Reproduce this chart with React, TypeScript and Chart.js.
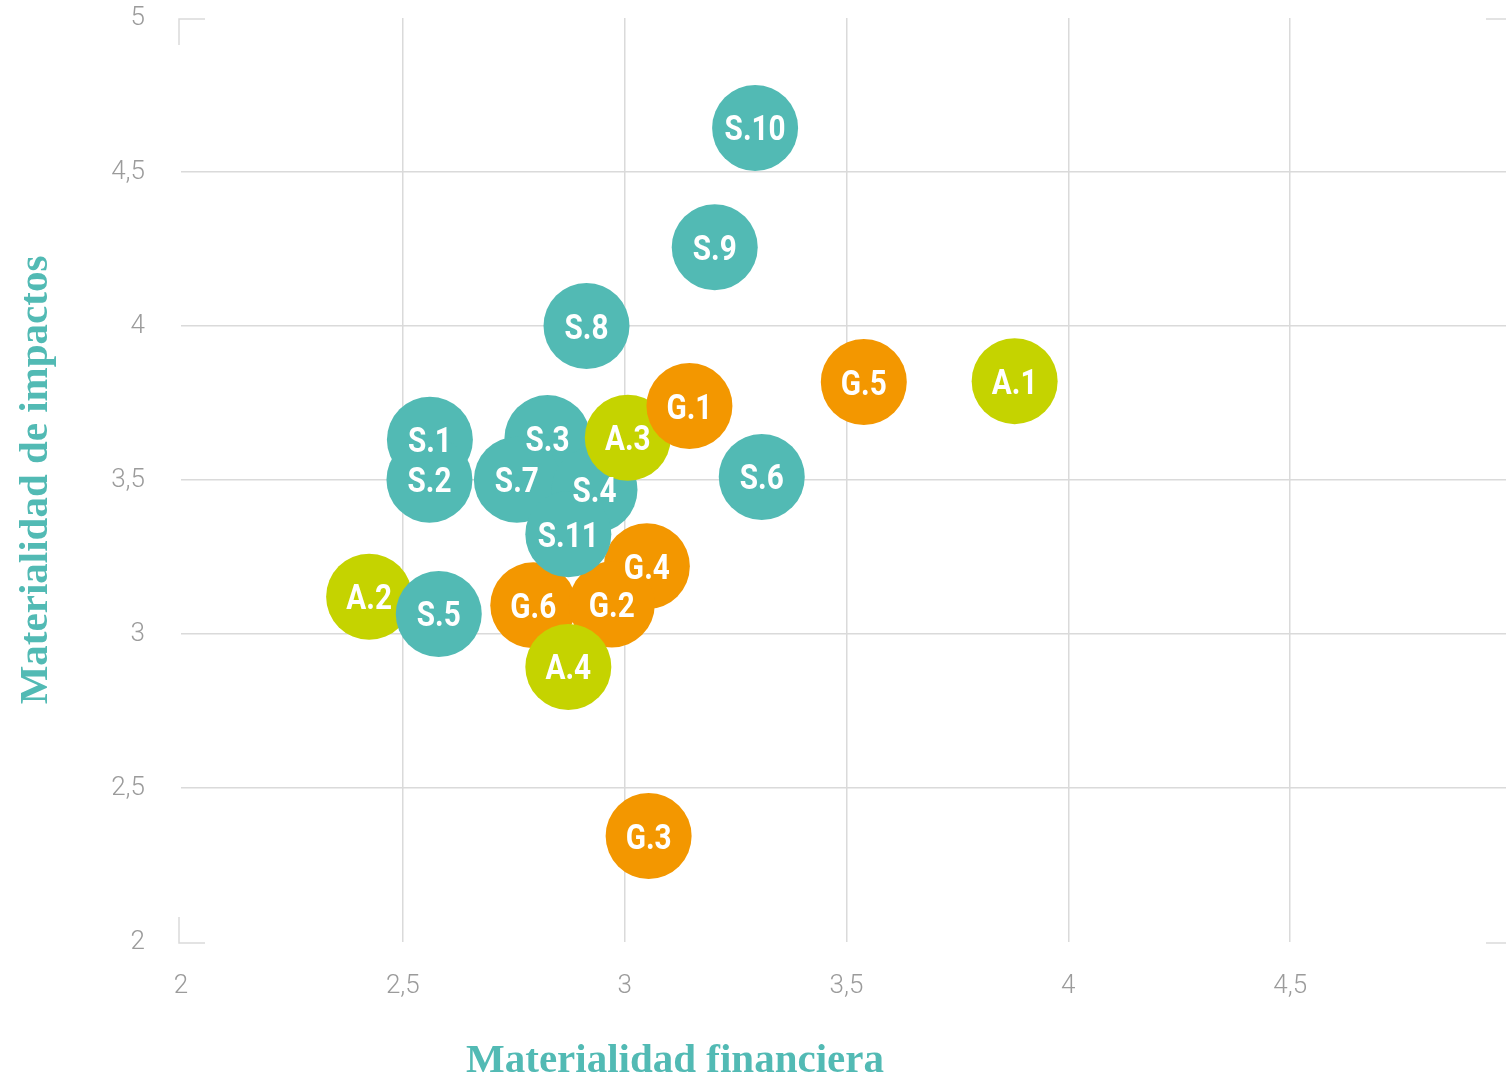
import React, { useEffect, useRef } from "react";
import { Chart, registerables } from "chart.js";

Chart.register(...registerables);

// ---- Data ----
// Draw order: later points are drawn on top of earlier ones.
const pointLabels = ["A.2", "S.5", "S.1", "S.2", "S.3", "S.7", "S.4", "A.3", "G.1", "G.4", "G.6", "G.2", "S.11", "A.4", "S.8", "S.9", "S.10", "S.6", "G.5", "A.1", "G.3"];
const financialValues = [2.424, 2.581, 2.561, 2.56, 2.826, 2.757, 2.932, 3.007, 3.146, 3.05, 2.794, 2.971, 2.873, 2.873, 2.914, 3.203, 3.294, 3.309, 3.539, 3.879, 3.054];
const impactValues = [3.121, 3.065, 3.631, 3.501, 3.636, 3.501, 3.468, 3.637, 3.74, 3.22, 3.093, 3.096, 3.324, 2.893, 4.0, 4.256, 4.643, 3.51, 3.818, 3.821, 2.344];
const axisTicks = [2, 2.5, 3, 3.5, 4, 4.5, 5];
const xAxisTitle = "Materialidad financiera";
const yAxisTitle = "Materialidad de impactos";

const groupColors: Record<string, string> = {
  S: "#52BAB4",
  G: "#F39700",
  A: "#C5D300",
};
const TEAL = "#52BAB4";
const GRID = "#dadada";
const TICK = "#9b9b9b";

const CANVAS_W = 1530;
const CANVAS_H = 1081;

const overlayPlugin = {
  id: "overlay",
  beforeDatasetsDraw(chart: any) {
    const { ctx, chartArea } = chart;
    const { left, right, top, bottom } = chartArea;
    const L = 26;
    ctx.save();
    ctx.strokeStyle = GRID;
    ctx.lineWidth = 1.5;
    const lx = left - 2;
    ctx.beginPath();
    ctx.moveTo(lx, top + L + 1);
    ctx.lineTo(lx, top + 1);
    ctx.lineTo(lx + L, top + 1);
    ctx.moveTo(lx, bottom - L + 1);
    ctx.lineTo(lx, bottom + 1);
    ctx.lineTo(lx + L, bottom + 1);
    ctx.moveTo(right - L, top + 1);
    ctx.lineTo(right, top + 1);
    ctx.lineTo(right, top + L + 1);
    ctx.moveTo(right - L, bottom + 1);
    ctx.lineTo(right, bottom + 1);
    ctx.lineTo(right, bottom - L + 1);
    ctx.stroke();
    ctx.restore();
  },
  afterDatasetsDraw(chart: any) {
    const { ctx } = chart;
    const meta = chart.getDatasetMeta(0);
    ctx.save();
    ctx.fillStyle = "#ffffff";
    ctx.font = "700 35px Roboto";
    ctx.textAlign = "center";
    ctx.textBaseline = "alphabetic";
    const h = ctx.measureText("S").actualBoundingBoxAscent;
    meta.data.forEach((el: any, i: number) => {
      ctx.save();
      ctx.translate(el.x, el.y + h / 2);
      ctx.scale(0.85, 1);
      ctx.fillText(pointLabels[i], 0, 0);
      ctx.restore();
    });
    ctx.restore();
  },
  afterDraw(chart: any) {
    const { ctx } = chart;
    ctx.save();
    ctx.fillStyle = TEAL;
    ctx.font = "bold 41px 'Liberation Serif'";
    ctx.textAlign = "center";
    ctx.textBaseline = "alphabetic";
    ctx.fillText(xAxisTitle, 675, 1072);
    ctx.restore();
  },
};

const fmt = (v: number | string) => String(v).replace(".", ",");

export default function App() {
  const canvasRef = useRef<HTMLCanvasElement | null>(null);

  useEffect(() => {
    if (!canvasRef.current) return;
    const points = financialValues.map((x, i) => ({ x, y: impactValues[i] }));
    const colors = pointLabels.map((l) => groupColors[l.charAt(0)]);
    const gridColor = (c: any) =>
      c.tick && (c.tick.value === 2 || c.tick.value === 5) ? "rgba(0,0,0,0)" : GRID;
    const chart = new Chart(canvasRef.current, {
      type: "scatter",
      data: {
        datasets: [
          {
            data: points,
            pointRadius: 43,
            pointHoverRadius: 43,
            pointBackgroundColor: colors,
            pointBorderWidth: 0,
            pointBorderColor: colors,
          },
        ],
      },
      options: {
        animation: false,
        responsive: false,
        events: [],
        layout: { autoPadding: false, padding: { top: 18, right: 18, bottom: 0, left: 0 } },
        plugins: {
          legend: { display: false },
          tooltip: { enabled: false },
        },
        scales: {
          x: {
            type: "linear",
            min: axisTicks[0],
            max: axisTicks[axisTicks.length - 1],
            afterBuildTicks: (scale: any) => {
              scale.ticks = axisTicks.map((v) => ({ value: v }));
            },
            afterFit: (scale: any) => {
              scale.height = 139;
            },
            border: { display: false },
            grid: {
              drawTicks: true,
              tickLength: 29,
              tickColor: "rgba(0,0,0,0)",
              lineWidth: 1.5,
              color: gridColor,
            },
            ticks: {
              padding: 0,
              color: TICK,
              font: { family: "Roboto", size: 26, weight: "300" },
              callback: (v: any) => fmt(v),
              maxRotation: 0,
            },
          },
          y: {
            type: "linear",
            min: axisTicks[0],
            max: axisTicks[axisTicks.length - 1],
            afterBuildTicks: (scale: any) => {
              scale.ticks = axisTicks.map((v) => ({ value: v }));
            },
            afterFit: (scale: any) => {
              scale.width = 181;
            },
            border: { display: false },
            grid: {
              drawTicks: true,
              tickLength: 36,
              tickColor: "rgba(0,0,0,0)",
              lineWidth: 1.5,
              color: gridColor,
            },
            ticks: {
              padding: 0,
              color: TICK,
              font: { family: "Roboto", size: 26, weight: "300" },
              callback: (v: any) => fmt(v),
            },
            title: {
              display: true,
              text: yAxisTitle,
              color: TEAL,
              font: { family: "Liberation Serif", size: 41, weight: "bold" },
              padding: { top: 12, bottom: 0 },
            },
          },
        },
      },
      plugins: [overlayPlugin],
    });
    return () => chart.destroy();
  }, []);

  return (
    <div
      style={{
        position: "fixed",
        left: 0,
        top: 0,
        width: 1506,
        height: 1081,
        overflow: "hidden",
        background: "#ffffff",
      }}
    >
      <canvas
        ref={canvasRef}
        width={CANVAS_W}
        height={CANVAS_H}
        style={{ display: "block", width: CANVAS_W, height: CANVAS_H }}
      />
    </div>
  );
}
